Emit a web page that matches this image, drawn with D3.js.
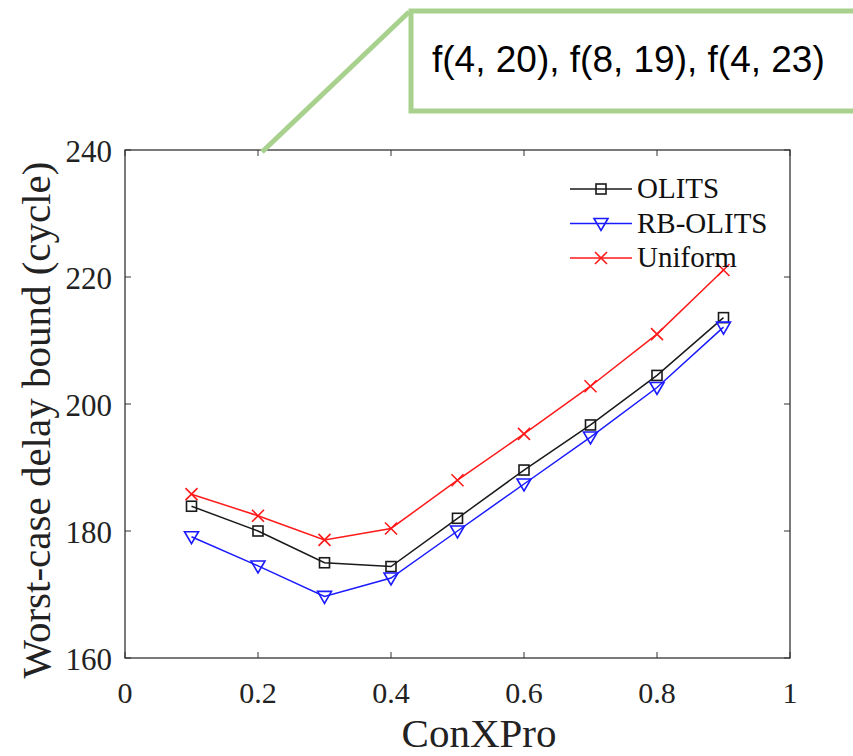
<!DOCTYPE html>
<html>
<head>
<meta charset="utf-8">
<script src="https://cdn.jsdelivr.net/npm/d3@7"></script>
<style>
  body { margin: 0; background: #fff; }
  svg { display: block; }
</style>
</head>
<body>
<div id="chart"></div>
<script>
// chart data
var xValues = [0.1, 0.2, 0.3, 0.4, 0.5, 0.6, 0.7, 0.8, 0.9];
var olits = [183.9, 180.0, 175.0, 174.4, 182.0, 189.6, 196.7, 204.5, 213.6];
var rbOlits = [179.1, 174.5, 169.7, 172.6, 180.0, 187.4, 194.8, 202.6, 212.1];
var uniform = [185.8, 182.4, 178.6, 180.4, 188.0, 195.3, 202.8, 211.0, 221.1];
var seriesNames = ['OLITS', 'RB-OLITS', 'Uniform'];
var xTicks = [0, 0.2, 0.4, 0.6, 0.8, 1];
var yTicks = [160, 180, 200, 220, 240];
var calloutText = 'f(4, 20), f(8, 19), f(4, 23)';

var width = 853;
var height = 756;
var serif = '"Liberation Serif", "Times New Roman", serif';

var xScale = d3.scaleLinear().domain([0, 1]).range([125, 790]);
var yScale = d3.scaleLinear().domain([160, 240]).range([658, 150]);

var seriesList = [
    { name: seriesNames[0], values: olits, color: '#1a1a1a', marker: 'square' },
    { name: seriesNames[1], values: rbOlits, color: '#1a1aff', marker: 'triangle' },
    { name: seriesNames[2], values: uniform, color: '#ff1a1a', marker: 'cross' }
];

var svg = d3.select('#chart')
    .append('svg')
    .attr('width', width)
    .attr('height', height);

drawAxes(svg);
drawSeries(svg);
drawLegend(svg);
drawCallout(svg);

function drawAxes(svg) {
    var axisColor = '#333';
    var tickLen = 6;

    // frame
    svg.append('rect')
        .attr('x', xScale(0))
        .attr('y', yScale(240))
        .attr('width', xScale(1) - xScale(0))
        .attr('height', yScale(160) - yScale(240))
        .attr('fill', 'none')
        .attr('stroke', axisColor)
        .attr('stroke-width', 1.3);

    // inward ticks, bottom and top
    var xt = svg.append('g').attr('class', 'x-ticks');
    xTicks.forEach(function (t) {
        xt.append('line')
            .attr('x1', xScale(t)).attr('x2', xScale(t))
            .attr('y1', yScale(160)).attr('y2', yScale(160) - tickLen)
            .attr('stroke', axisColor);
        xt.append('line')
            .attr('x1', xScale(t)).attr('x2', xScale(t))
            .attr('y1', yScale(240)).attr('y2', yScale(240) + tickLen)
            .attr('stroke', axisColor);
        xt.append('text')
            .attr('x', xScale(t))
            .attr('y', yScale(160) + 45)
            .attr('text-anchor', 'middle')
            .style('font-family', serif)
            .style('font-size', '30px')
            .attr('fill', '#222')
            .text(t === 0 || t === 1 ? String(t) : t.toFixed(1));
    });

    // inward ticks, left and right
    var yt = svg.append('g').attr('class', 'y-ticks');
    yTicks.forEach(function (t) {
        yt.append('line')
            .attr('x1', xScale(0)).attr('x2', xScale(0) + tickLen)
            .attr('y1', yScale(t)).attr('y2', yScale(t))
            .attr('stroke', axisColor);
        yt.append('line')
            .attr('x1', xScale(1)).attr('x2', xScale(1) - tickLen)
            .attr('y1', yScale(t)).attr('y2', yScale(t))
            .attr('stroke', axisColor);
        yt.append('text')
            .attr('x', xScale(0) - 13)
            .attr('y', yScale(t) + 12)
            .attr('text-anchor', 'end')
            .style('font-family', serif)
            .style('font-size', '31px')
            .attr('fill', '#222')
            .text(t);
    });

    svg.append('text')
        .attr('x', 479)
        .attr('y', 747)
        .attr('text-anchor', 'middle')
        .style('font-family', serif)
        .style('font-size', '41px')
        .attr('fill', '#222')
        .text('ConXPro');

    svg.append('text')
        .attr('transform', 'translate(50,' + 420 + ') rotate(-90)')
        .attr('text-anchor', 'middle')
        .style('font-family', serif)
        .style('font-size', '41px')
        .attr('fill', '#222')
        .text('Worst-case delay bound (cycle)');
}

function drawMarker(g, kind, cx, cy, color) {
    if (kind === 'square') {
        g.append('rect')
            .attr('x', cx - 5).attr('y', cy - 5)
            .attr('width', 10).attr('height', 10)
            .attr('fill', 'none')
            .attr('stroke', color)
            .attr('stroke-width', 1.6);
    } else if (kind === 'triangle') {
        g.append('path')
            .attr('d', 'M' + (cx - 7) + ',' + (cy - 5) + 'L' + (cx + 7) + ',' + (cy - 5) + 'L' + cx + ',' + (cy + 7) + 'Z')
            .attr('fill', 'none')
            .attr('stroke', color)
            .attr('stroke-width', 1.6);
    } else {
        g.append('path')
            .attr('d', 'M' + (cx - 6) + ',' + (cy - 6) + 'L' + (cx + 6) + ',' + (cy + 6) +
                'M' + (cx - 6) + ',' + (cy + 6) + 'L' + (cx + 6) + ',' + (cy - 6))
            .attr('stroke', color)
            .attr('stroke-width', 1.6);
    }
}

function drawSeries(svg) {
    var line = d3.line()
        .x(function (d, i) { return xScale(xValues[i]); })
        .y(function (d) { return yScale(d); });

    seriesList.forEach(function (s) {
        var g = svg.append('g').attr('class', 'series');
        g.append('path')
            .datum(s.values)
            .attr('d', line)
            .attr('fill', 'none')
            .attr('stroke', s.color)
            .attr('stroke-width', 1.5);
        s.values.forEach(function (v, i) {
            drawMarker(g, s.marker, xScale(xValues[i]), yScale(v), s.color);
        });
    });
}

function drawLegend(svg) {
    var legend = svg.append('g').attr('class', 'legend');
    var x0 = 570;
    seriesList.forEach(function (s, i) {
        var y = 189 + i * 34.5;
        legend.append('line')
            .attr('x1', x0).attr('x2', x0 + 62)
            .attr('y1', y).attr('y2', y)
            .attr('stroke', s.color)
            .attr('stroke-width', 1.5);
        drawMarker(legend, s.marker, x0 + 31, y, s.color);
        legend.append('text')
            .attr('x', x0 + 67)
            .attr('y', y + 9)
            .style('font-family', serif)
            .style('font-size', '29px')
            .attr('fill', '#111')
            .text(s.name);
    });
}

function drawCallout(svg) {
    var green = '#a9d18e';
    svg.append('line')
        .attr('x1', 262).attr('y1', 152)
        .attr('x2', 409).attr('y2', 12)
        .attr('stroke', green)
        .attr('stroke-width', 5);
    svg.append('rect')
        .attr('x', 411).attr('y', 11)
        .attr('width', 460).attr('height', 100)
        .attr('fill', 'none')
        .attr('stroke', green)
        .attr('stroke-width', 5);
    svg.append('text')
        .attr('x', 432)
        .attr('y', 72)
        .style('font-family', '"Liberation Sans", Arial, sans-serif')
        .style('font-size', '37px')
        .attr('fill', '#000')
        .text(calloutText);
}
</script>
</body>
</html>
